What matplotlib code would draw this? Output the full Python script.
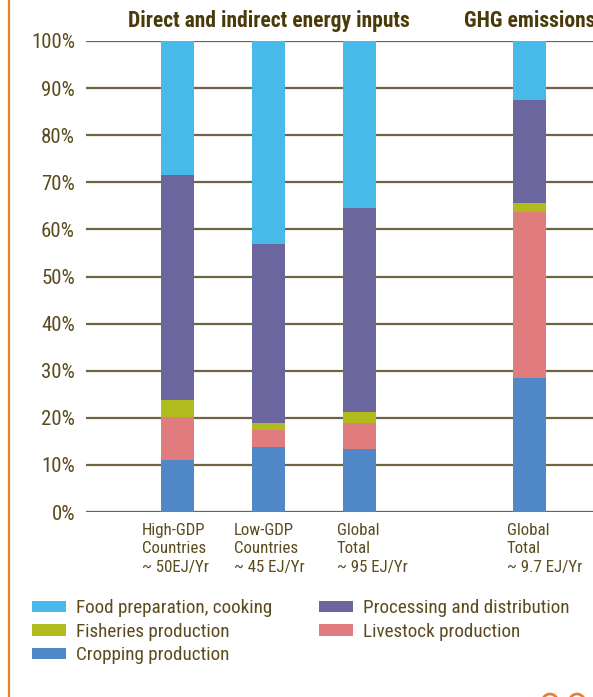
import numpy as np
import matplotlib
matplotlib.use("Agg")
import matplotlib.pyplot as plt
from matplotlib.patches import Patch, Circle
from matplotlib.lines import Line2D
from matplotlib import font_manager

# share of each stage, percent of total (bottom to top)
groups = ["High-GDP\nCountries\n~ 50EJ/Yr", "Low-GDP\nCountries\n~ 45 EJ/Yr",
          "Global\nTotal\n~ 95 EJ/Yr", "Global\nTotal\n~ 9.7 EJ/Yr"]
cropping = [11.0, 13.8, 13.4, 28.5]
livestock = [9.2, 3.7, 5.5, 35.2]
fisheries = [3.6, 1.4, 2.3, 1.9]
processing = [47.7, 38.0, 43.3, 21.9]
food_prep = [28.5, 43.1, 35.5, 12.5]

stages = [
    ("Cropping production", cropping, "#5087c7"),
    ("Livestock production", livestock, "#e07b7e"),
    ("Fisheries production", fisheries, "#b0bc1e"),
    ("Processing and distribution", processing, "#6b669e"),
    ("Food preparation, cooking", food_prep, "#47baea"),
]

# look for a narrow face; fall back to plain DejaVu
fonts = font_manager.fontManager.ttflist
preferred = ["Liberation Sans Narrow", "Roboto Condensed", "Open Sans Condensed",
             "Noto Sans Condensed", "DejaVu Sans Condensed", "Arial Narrow"]
family, stretch = None, "normal"
for name in preferred:
    if any(f.name == name for f in fonts):
        family = name
        break
if family is None:
    for f in fonts:
        if str(f.stretch) in ("condensed", "semi-condensed", "extra-condensed") or \
                "condensed" in f.name.lower() or "narrow" in f.name.lower():
            family, stretch = f.name, f.stretch
            break
if family is None:
    family = "DejaVu Sans"
narrow = family != "DejaVu Sans" or stretch != "normal"

plt.rcParams["font.family"] = [family, "DejaVu Sans"]
plt.rcParams["font.stretch"] = stretch
k = 1.0 if narrow else 0.82  # shrink text if no narrow face is found

text_col = "#5b4b1e"
title_col = "#4a3a0a"
grid_col = "#6f6340"

W, H = 593, 697
fig = plt.figure(figsize=(W / 100, H / 100), dpi=100)
ax = fig.add_axes([86 / W, (H - 512) / H, (W - 86) / W, (512 - 41) / H])

x = np.array([0, 1, 2, 3.87])
bar_w = 0.363
bottom = np.zeros(len(x))
for label, vals, col in stages:
    ax.bar(x, vals, bar_w, bottom=bottom, color=col, zorder=3, label=label)
    bottom += np.array(vals)

ax.set_xlim(-1.005, 4.566)
ax.set_ylim(0, 100)
ax.set_yticks(np.arange(0, 101, 10))
ax.set_yticklabels([f"{v}%" for v in range(0, 101, 10)])
ax.tick_params(axis="y", length=0, pad=8, labelsize=15 * k, labelcolor=text_col)
ax.set_xticks([])
ax.yaxis.grid(True, color=grid_col, linewidth=1.6, zorder=1)
for s in ax.spines.values():
    s.set_visible(False)

# category captions under the bars
offsets = [-0.39, -0.38, -0.25, -0.25]
for xi, off, g in zip(x, offsets, groups):
    ax.text(xi + off, -2.3, g, ha="left", va="top", fontsize=12.2 * k,
            color=text_col, linespacing=1.3, clip_on=False)

ax.text(1, 103.0, "Direct and indirect energy inputs", ha="center", va="baseline",
        fontsize=15.5 * k, fontweight="bold", color=title_col, clip_on=False)
ax.text(3.87, 103.0, "GHG emissions", ha="center", va="baseline",
        fontsize=15.5 * k, fontweight="bold", color=title_col, clip_on=False)

# legend
order = [4, 2, 0, 3, 1]
handles = [Patch(facecolor=stages[i][2], edgecolor="none") for i in order]
labels = [stages[i][0] for i in order]
fs = 13.8 * k
px = fs * 100 / 72
fig.legend(handles, labels, loc="upper left", bbox_to_anchor=(32 / W, 1 - 599 / H),
           ncol=2, frameon=False, fontsize=fs, labelcolor=text_col,
           handlelength=34 / px, handleheight=10 / px, handletextpad=10 / px,
           labelspacing=0.30, columnspacing=47 / px, borderaxespad=0,
           borderpad=0)

# page decoration: orange rule on the left, rings at the bottom corner
fig.add_artist(Line2D([8.5 / W, 8.5 / W], [0, 1], color="#e8822a", linewidth=1.6))
for cx in (550, 577):
    fig.add_artist(Circle((cx / W, -7 / H), 10 / H, transform=fig.transFigure,
                          fill=False, edgecolor="#e8822a", linewidth=2.0))

fig.savefig("out.png", dpi=100)
